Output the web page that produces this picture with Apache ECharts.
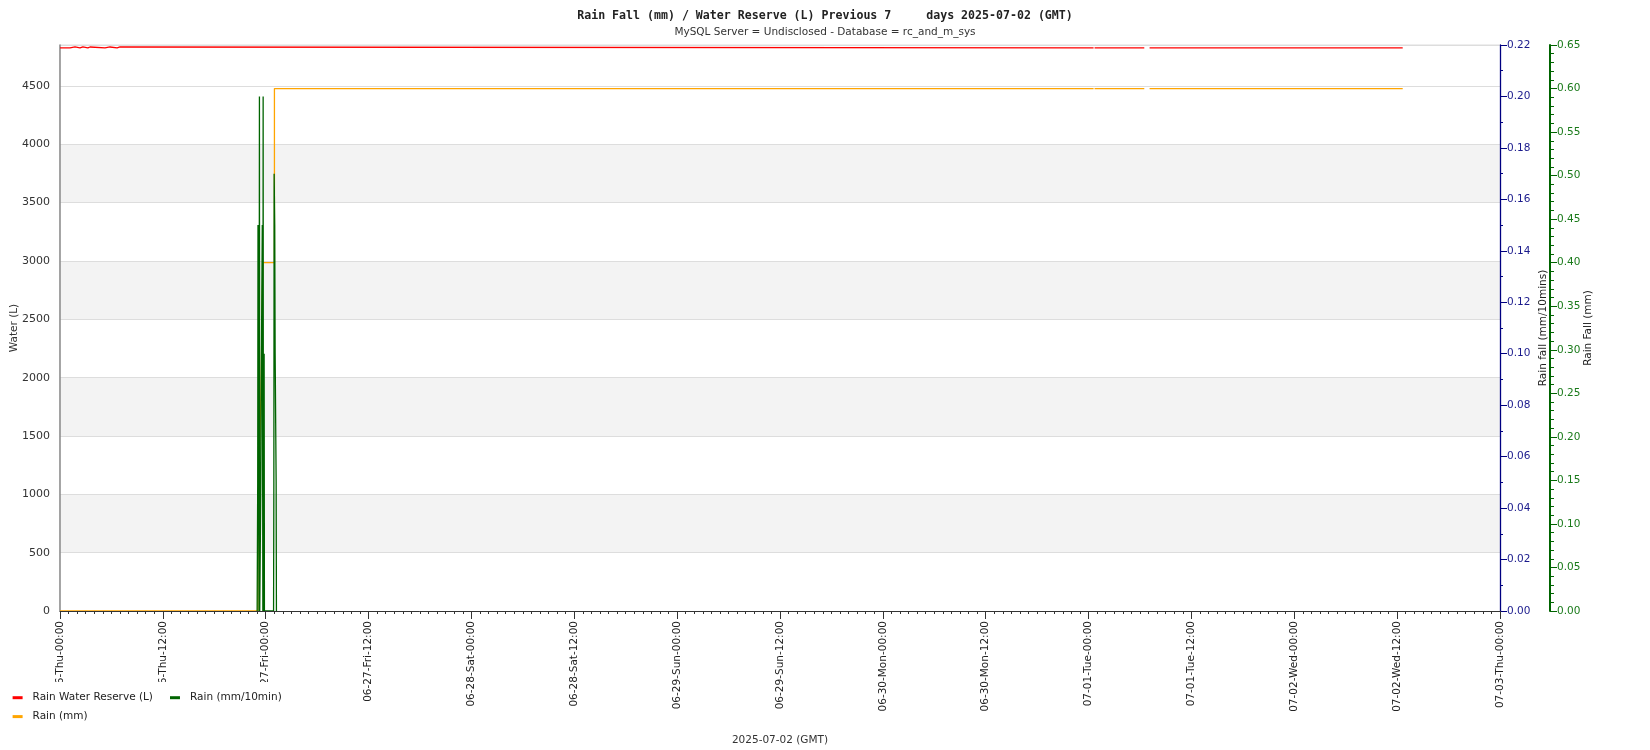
<!DOCTYPE html>
<html><head><meta charset="utf-8">
<script src="https://cdn.jsdelivr.net/npm/echarts@6/dist/echarts.min.js"></script>
<style>html,body{margin:0;padding:0;background:#fff}#c{width:1650px;height:750px}</style>
</head><body><div id="c"></div>
<script>
// ---- text ----
const titleText = 'Rain Fall (mm) / Water Reserve (L) Previous 7     days 2025-07-02 (GMT)';
const subtitleText = 'MySQL Server = Undisclosed - Database = rc_and_m_sys';
const xAxisTitle = '2025-07-02 (GMT)';
const leftAxisName = 'Water (L)';
const rain10AxisName = 'Rain fall (mm/10mins)';
const rainAxisName = 'Rain Fall (mm)';
const seriesNames = ['Rain Water Reserve (L)', 'Rain (mm/10min)', 'Rain (mm)'];
const weekdays = ['Sun', 'Mon', 'Tue', 'Wed', 'Thu', 'Fri', 'Sat'];

// ---- axis ranges ----
const rangeStart = '2025-06-26 00:00';
const rangeEnd = '2025-07-03 00:00';
const waterMax = 4851, waterStep = 500;
const rain10Max = 0.22, rain10Step = 0.02;
const rainMax = 0.65, rainStep = 0.05;

// ---- data (time, value) ----
const waterReserve = [
  ['2025-06-26 00:00', 4826], ['2025-06-26 01:10', 4834], ['2025-06-26 01:45', 4826],
  ['2025-06-26 02:20', 4834], ['2025-06-26 02:40', 4826], ['2025-06-26 03:15', 4834],
  ['2025-06-26 03:30', 4826], ['2025-06-26 05:15', 4834], ['2025-06-26 05:50', 4826],
  ['2025-06-26 06:40', 4834], ['2025-06-26 07:00', 4826],
  ['2025-07-01 00:28', 4826], ['2025-07-01 00:35', null], ['2025-07-01 00:42', 4826],
  ['2025-07-01 05:50', 4826], ['2025-07-01 06:30', null], ['2025-07-01 07:07', 4826],
  ['2025-07-02 12:39', 4826]
];
const rainCumulative = [
  ['2025-06-26 00:00', 0], ['2025-06-26 23:05', 0.05], ['2025-06-26 23:11', 0.15],
  ['2025-06-26 23:19', 0.2], ['2025-06-26 23:27', 0.25], ['2025-06-26 23:35', 0.35],
  ['2025-06-26 23:40', 0.4], ['2025-06-27 01:01', 0.6],
  ['2025-07-01 00:28', 0.6], ['2025-07-01 00:35', null], ['2025-07-01 00:42', 0.6],
  ['2025-07-01 05:50', 0.6], ['2025-07-01 06:30', null], ['2025-07-01 07:07', 0.6],
  ['2025-07-02 12:39', 0.6]
];
const rain10min = [
  ['2025-06-26 23:00', 0], ['2025-06-26 23:04', 0.05], ['2025-06-26 23:06', 0.15],
  ['2025-06-26 23:11', 0.15], ['2025-06-26 23:13', 0], ['2025-06-26 23:16', 0.2],
  ['2025-06-26 23:18', 0], ['2025-06-26 23:26', 0.05], ['2025-06-26 23:30', 0.1],
  ['2025-06-26 23:36', 0.15], ['2025-06-26 23:38', 0.15], ['2025-06-26 23:40', 0],
  ['2025-06-26 23:42', 0.2], ['2025-06-26 23:44', 0], ['2025-06-26 23:49', 0.1],
  ['2025-06-26 23:51', 0], ['2025-06-27 00:55', 0], ['2025-06-27 00:57', 0.05],
  ['2025-06-27 00:59', 0.17], ['2025-06-27 01:03', 0.15], ['2025-06-27 01:06', 0.1],
  ['2025-06-27 01:13', 0.05], ['2025-06-27 01:15', 0]
];

// ---- helpers ----
function toMs(s) {
  const m = s.match(/(\d+)-(\d+)-(\d+) (\d+):(\d+)/);
  return Date.UTC(+m[1], +m[2] - 1, +m[3], +m[4], +m[5]);
}
const T0 = toMs(rangeStart);
const hoursOf = s => (toMs(s) - T0) / 3600000;
const toXY = arr => arr.map(([t, v]) => [hoursOf(t), v]);
const pad = n => String(n).padStart(2, '0');
function fmtHour(h) {
  const d = new Date(T0 + h * 3600000);
  return pad(d.getUTCMonth() + 1) + '-' + pad(d.getUTCDate()) + '-' + weekdays[d.getUTCDay()] + '-' +
    pad(d.getUTCHours()) + ':' + pad(d.getUTCMinutes());
}
const FONT = 'DejaVu Sans';
const band = ['#ffffff', '#f3f3f3', '#ffffff', '#f3f3f3', '#ffffff', '#f3f3f3', '#ffffff', '#f3f3f3', '#ffffff', '#ffffff'];

const chart = echarts.init(document.getElementById('c'), null, { renderer: 'canvas' });
chart.setOption({
  animation: false,
  backgroundColor: '#ffffff',
  title: [
    { text: titleText, left: 'center', top: 5,
      textStyle: { fontFamily: 'DejaVu Sans Mono', fontWeight: 'bold', fontSize: 11.6, color: '#222' } },
    { text: subtitleText, left: 'center', top: 22,
      textStyle: { fontFamily: FONT, fontWeight: 'normal', fontSize: 10.5, color: '#333' } }
  ],
  grid: { left: 60, right: 150, top: 45, bottom: 139, containLabel: false, outerBoundsMode: 'none',
    show: true, borderColor: '#dddddd', borderWidth: 1 },
  legend: [
    { data: [seriesNames[0], seriesNames[1]], left: 0, top: 682, orient: 'horizontal',
      padding: [8.7, 12, 30, 12.6], itemGap: 17, itemWidth: 10, itemHeight: 3, icon: 'rect',
      backgroundColor: '#ffffff', z: 20,
      textStyle: { fontFamily: FONT, fontSize: 10.5, color: '#222', lineHeight: 14, padding: [0, 0, 0, 5] } },
    { data: [seriesNames[2]], left: 0, top: 704.6, orient: 'horizontal',
      padding: [5, 12, 5, 12.6], itemWidth: 10, itemHeight: 3, icon: 'rect', z: 21,
      textStyle: { fontFamily: FONT, fontSize: 10.5, color: '#222', lineHeight: 14, padding: [0, 0, 0, 5] } }
  ],
  xAxis: {
    type: 'value', min: hoursOf(rangeStart), max: hoursOf(rangeEnd), interval: 12, z: 10,
    name: xAxisTitle, nameLocation: 'middle', nameGap: 124,
    nameTextStyle: { fontFamily: FONT, fontSize: 10.5, color: '#333' },
    axisLine: { show: true, lineStyle: { color: '#333', width: 1 } },
    axisTick: { show: true, length: 8, lineStyle: { color: '#333' } },
    minorTick: { show: true, splitNumber: 12, length: 3, lineStyle: { color: '#333' } },
    axisLabel: { rotate: 90, margin: 10, fontFamily: FONT, fontSize: 10.5, color: '#222',
      showMinLabel: true, showMaxLabel: true, formatter: fmtHour },
    splitLine: { show: false }
  },
  yAxis: [
    { type: 'value', position: 'left', min: 0, max: waterMax, interval: waterStep,
      name: leftAxisName, nameLocation: 'middle', nameRotate: 90, nameGap: 40, nameMoveOverlap: false,
      nameTextStyle: { fontFamily: FONT, fontSize: 10.5, color: '#333' },
      axisLine: { show: true, lineStyle: { color: '#888', width: 1.5 } },
      axisTick: { show: false },
      axisLabel: { fontFamily: FONT, fontSize: 11, color: '#333', margin: 10, showMaxLabel: false,
        formatter: v => String(v) },
      splitLine: { show: true, lineStyle: { color: '#dddddd', width: 1 } },
      splitArea: { show: true, areaStyle: { color: band } } },
    { type: 'value', position: 'right', min: 0, max: rain10Max, interval: rain10Step,
      name: rain10AxisName, nameLocation: 'middle', nameRotate: 90, nameGap: 38, nameMoveOverlap: false,
      nameTextStyle: { fontFamily: FONT, fontSize: 10.5, color: '#222' },
      axisLine: { show: true, lineStyle: { color: '#000080', width: 1.3 } },
      axisTick: { show: true, length: 7, lineStyle: { color: '#000080' } },
      minorTick: { show: true, splitNumber: 2, length: 3, lineStyle: { color: '#000080' } },
      axisLabel: { fontFamily: FONT, fontSize: 10.5, color: '#1a1a8c', margin: 7, formatter: v => v.toFixed(2) },
      splitLine: { show: false } },
    { type: 'value', position: 'right', offset: 50, min: 0, max: rainMax, interval: rainStep,
      name: rainAxisName, nameLocation: 'middle', nameRotate: 90, nameGap: 33, nameMoveOverlap: false,
      nameTextStyle: { fontFamily: FONT, fontSize: 10.5, color: '#222' },
      axisLine: { show: true, lineStyle: { color: '#006400', width: 2 } },
      axisTick: { show: true, length: 7, lineStyle: { color: '#006400' } },
      minorTick: { show: true, splitNumber: 5, length: 4, lineStyle: { color: '#006400' } },
      axisLabel: { fontFamily: FONT, fontSize: 10.5, color: '#1a7a1a', margin: 7, formatter: v => v.toFixed(2) },
      splitLine: { show: false } }
  ],
  series: [
    { name: seriesNames[0], type: 'line', yAxisIndex: 0, step: 'end', showSymbol: false, symbol: 'none',
      connectNulls: false, data: toXY(waterReserve),
      itemStyle: { color: '#ff0000' }, lineStyle: { color: '#ff0000', width: 1.3 } },
    { name: seriesNames[1], type: 'line', yAxisIndex: 1, showSymbol: false, symbol: 'none',
      data: toXY(rain10min), z: 3,
      itemStyle: { color: '#006400' }, lineStyle: { color: '#006400', width: 1.3 } },
    { name: seriesNames[2], type: 'line', yAxisIndex: 2, step: 'end', showSymbol: false, symbol: 'none',
      connectNulls: false, data: toXY(rainCumulative), z: 2,
      itemStyle: { color: '#ffa500' }, lineStyle: { color: '#ffa500', width: 1.3 } }
  ]
});
</script>
</body></html>
